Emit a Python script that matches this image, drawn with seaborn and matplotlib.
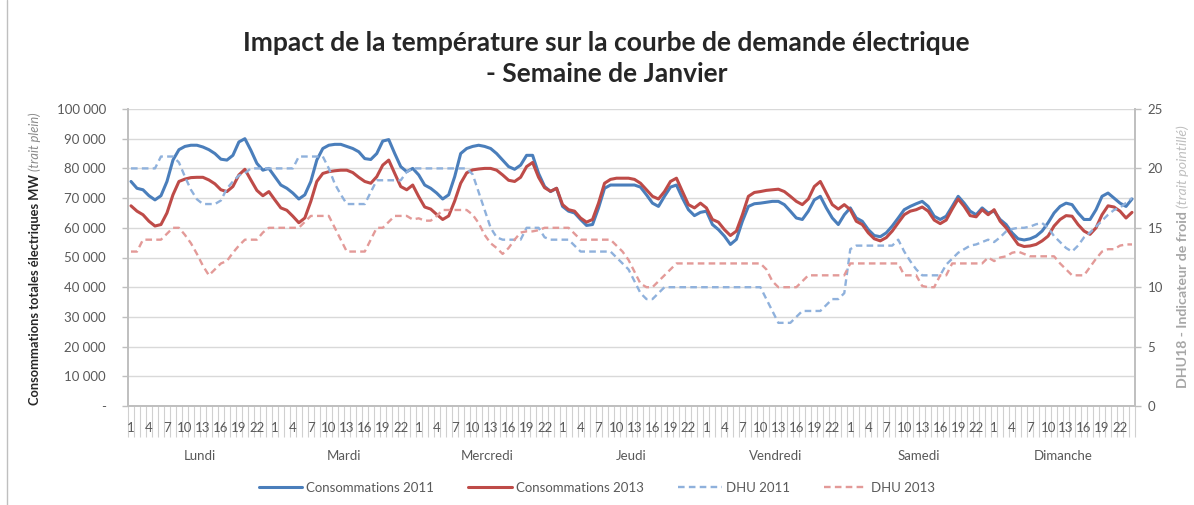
import numpy as np
import pandas as pd
import matplotlib
matplotlib.use("Agg")
import matplotlib.pyplot as plt
import seaborn as sns
from matplotlib.lines import Line2D

# ---- data (one row = one day, hours 1..24) ----
jours = ["Lundi", "Mardi", "Mercredi", "Jeudi", "Vendredi", "Samedi", "Dimanche"]
heures_affichees = ["1", "4", "7", "10", "13", "16", "19", "22"]

conso_2011 = [
    75600, 73300, 72800, 70800, 69400, 70800, 75600, 82800, 86300, 87400, 87800, 87800, 87200, 86300, 85000, 83100, 82800, 84400, 88900, 90000, 86100, 81700, 79400, 80000,
    77200, 74400, 73300, 71700, 69700, 71100, 75600, 82800, 86700, 87800, 88100, 88100, 87400, 86700, 85600, 83300, 83000, 85000, 89200, 89700, 85000, 80600, 78900, 80000,
    77800, 74400, 73300, 71700, 69700, 71100, 77200, 85000, 86700, 87400, 87800, 87400, 86700, 85000, 82800, 80600, 79700, 81100, 84400, 84400, 78300, 73900, 72200, 73300,
    67200, 65600, 65000, 62800, 60800, 61100, 66700, 73300, 74400, 74400, 74400, 74400, 74400, 73700, 71100, 68300, 67200, 70600, 73700, 74400, 70000, 66100, 64100, 65200,
    65600, 61100, 59400, 57200, 54400, 56100, 62200, 67200, 68100, 68300, 68600, 68900, 68900, 67800, 65600, 63300, 62800, 65600, 69400, 70600, 66700, 63300, 61100, 64400,
    66700, 63300, 62200, 59400, 57400, 57000, 58300, 60600, 63300, 66100, 67200, 68100, 68900, 67200, 63900, 62800, 63900, 67200, 70600, 68300, 65600, 64400, 66700, 65000,
    65600, 62800, 61100, 58300, 56300, 55900, 56300, 57200, 58900, 61700, 65000, 67200, 68300, 67800, 65000, 62800, 62800, 66100, 70600, 71700, 70000, 68300, 67200, 69700,
]

conso_2013 = [
    67400, 65600, 64400, 62200, 60600, 61100, 65000, 71100, 75600, 76400, 76900, 77000, 77000, 76100, 74800, 72800, 72200, 73900, 77800, 79700, 76100, 72600, 70800, 72200,
    69400, 66700, 65900, 63900, 61700, 63300, 68900, 75600, 78300, 78900, 79200, 79400, 79400, 78600, 77000, 75600, 75000, 77200, 81100, 82800, 78300, 73900, 72800, 74400,
    70500, 67000, 66300, 64500, 62800, 64000, 69000, 75000, 78500, 79500, 79800, 80000, 80000, 79400, 77800, 76000, 75600, 77000, 80600, 82000, 77000, 73500, 72300, 73300,
    67800, 66100, 65600, 63300, 61900, 62800, 68300, 75000, 76300, 76700, 76700, 76700, 76300, 75000, 72800, 70600, 69700, 72200, 75600, 76700, 72200, 67800, 66700, 68300,
    66700, 62800, 61900, 59400, 57400, 58900, 64400, 70600, 71900, 72200, 72600, 72800, 73000, 72200, 70600, 68900, 67800, 69700, 73900, 75600, 71700, 67800, 66300, 67800,
    66100, 62200, 61100, 58300, 56300, 55600, 56700, 58900, 61700, 64400, 65600, 66100, 67000, 65600, 62600, 61400, 62600, 66300, 69700, 67200, 64100, 63700, 66100, 64400,
    66100, 62200, 60000, 57200, 54400, 53700, 53900, 54400, 55600, 57200, 60600, 62800, 64100, 63900, 61100, 58900, 57800, 60000, 64400, 67400, 67000, 65600, 63300, 65200,
]

dhu_2011 = [
    20, 20, 20, 20, 20, 21, 21, 21, 20.5, 19.3, 18.2, 17.4, 17, 17, 17, 17.3, 18.3, 18.9, 19.4, 19.6, 20, 20, 20, 20,
    20, 20, 20, 20, 21, 21, 21, 21, 21, 20, 18.7, 17.8, 17, 17, 17, 17, 18, 19, 19, 19, 19, 19, 19.7, 20,
    20, 20, 20, 20, 20, 20, 20, 20, 20, 19.5, 18, 16.5, 15, 14.2, 14, 14, 14, 14, 15, 15, 15, 14.2, 14, 14,
    14, 14, 13.5, 13, 13, 13, 13, 13, 13, 12.5, 12, 11.5, 10.5, 9.5, 9, 9, 9.5, 10, 10, 10, 10, 10, 10, 10,
    10, 10, 10, 10, 10, 10, 10, 10, 10, 10, 9, 8, 7, 7, 7, 7.5, 8, 8, 8, 8, 8.5, 9, 9, 9.5,
    13.2, 13.5, 13.5, 13.5, 13.5, 13.5, 13.5, 13.5, 14, 13, 12.2, 11.5, 11, 11, 11, 11, 11.9, 12.4, 12.9, 13.2, 13.5, 13.6, 13.8, 14,
    13.8, 14.2, 14.7, 14.9, 15, 15, 15.1, 15.3, 15.4, 15, 14.3, 13.8, 13.3, 13, 13.5, 14.2, 14.6, 15.1, 15.6, 16.1, 16.5, 16.7, 17.1, 17.5,
]

dhu_2013 = [
    13, 13, 14, 14, 14, 14, 14.5, 15, 15, 14.4, 13.7, 12.8, 11.8, 11, 11.5, 12, 12.2, 12.9, 13.5, 14, 14, 14, 14.6, 15,
    15, 15, 15, 15, 15, 15.5, 16, 16, 16, 16, 15, 14, 13, 13, 13, 13, 14, 15, 15, 15.5, 16, 16, 16, 15.7,
    15.8, 15.6, 15.6, 16, 16.5, 16.5, 16.5, 16.5, 16.5, 16.1, 15.4, 14.4, 13.7, 13.3, 12.8, 13.3, 14, 14.6, 14.7, 14.7, 14.8, 15, 15, 15,
    15, 15, 14.5, 14, 14, 14, 14, 14, 14, 13.5, 13, 12.3, 11.3, 10.3, 10, 10, 10.5, 11, 11.5, 12, 12, 12, 12, 12,
    12, 12, 12, 12, 12, 12, 12, 12, 12, 12, 11.5, 10.5, 10, 10, 10, 10, 10.5, 11, 11, 11, 11, 11, 11, 11,
    12, 12, 12, 12, 12, 12, 12, 12, 12, 11, 11, 11, 10.1, 10, 10, 11, 11, 12, 12, 12, 12, 12, 12, 12.5,
    12.2, 12.5, 12.6, 12.9, 13, 12.8, 12.6, 12.6, 12.6, 12.6, 12.6, 12, 11.5, 11, 11, 11, 11.7, 12.4, 13, 13.2, 13.2, 13.5, 13.6, 13.6,
]

n = len(conso_2011)
h_par_jour = n // len(jours)
df = pd.DataFrame({
    "heure": np.arange(n),
    "Consommations 2011": conso_2011,
    "Consommations 2013": conso_2013,
    "DHU 2011": dhu_2011,
    "DHU 2013": dhu_2013,
})

bleu = "#4a7ebb"
rouge = "#be4b48"
bleu_clair = "#8fb1dc"
rouge_clair = "#e39a98"
gris_axe = "#bfbfbf"
gris_txt = "#595959"
tirets = (0, (2.8, 1.8))

sns.set_theme(style="white")
plt.rcParams['font.family'] = ['Lato', 'DejaVu Sans']

W, H = 1194, 505
fig = plt.figure(figsize=(W / 100, H / 100), dpi=100)
ax = fig.add_axes([128 / W, 1 - 406 / H, (1135 - 128) / W, (406 - 109) / H])
ax2 = ax.twinx()

sns.lineplot(data=df, x="heure", y="Consommations 2011", ax=ax, color=bleu, lw=2.2)
sns.lineplot(data=df, x="heure", y="Consommations 2013", ax=ax, color=rouge, lw=2.2)
sns.lineplot(data=df, x="heure", y="DHU 2011", ax=ax2, color=bleu_clair, lw=1.7, linestyle=tirets)
sns.lineplot(data=df, x="heure", y="DHU 2013", ax=ax2, color=rouge_clair, lw=1.7, linestyle=tirets)

# y axes
ax.set_ylim(0, 100000)
ax.set_yticks(np.arange(0, 100001, 10000))
ax.set_yticklabels(["-"] + [f"{v:,}".replace(",", " ") for v in range(10000, 100001, 10000)])
ax2.set_ylim(0, 25)
ax2.set_yticks(np.arange(0, 26, 5))
ax.yaxis.grid(True, color="#d9d9d9", lw=1)
ax.set_xlim(-0.5, n - 0.5)
ax.set_ylabel("")
ax2.set_ylabel("")
ax.set_xlabel("")

for a in (ax, ax2):
    for s in a.spines.values():
        s.set_color(gris_axe)
    a.spines["top"].set_visible(False)
    a.tick_params(axis="y", colors=gris_txt, labelsize=9.5, length=4, width=1)
    a.tick_params(axis="y", color=gris_axe)
ax.tick_params(axis="y", pad=12)
ax2.tick_params(axis="y", pad=5)

# category axis: hour separators (minor) and day separators (major)
ax.set_xticks(np.arange(-0.5, n, h_par_jour))
ax.set_xticks(np.arange(-0.5, n, 1), minor=True)
ax.tick_params(axis="x", which="major", length=44, width=1, color=gris_axe, labelbottom=False, direction="out")
ax.tick_params(axis="x", which="minor", length=22, width=0.8, color="#d0d0d0", labelbottom=False, direction="out", bottom=True)
ax2.set_xticks([])

trans = ax.get_xaxis_transform()
for d, jour in enumerate(jours):
    debut = d * h_par_jour
    for lab in heures_affichees:
        ax.text(debut + int(lab) - 1, -0.074, lab, transform=trans, ha="center", va="center",
                fontsize=9.5, color=gris_txt)
    ax.text(debut + (h_par_jour - 1) / 2, -0.168, jour, transform=trans, ha="center", va="center",
            fontsize=9.5, color=gris_txt)

# titles
fig.text(0.508, 1 - 43 / H, "Impact de la température sur la courbe de demande électrique",
         ha="center", va="center", fontsize=19, fontweight="bold", color="#262626")
fig.text(0.508, 1 - 74 / H, "- Semaine de Janvier",
         ha="center", va="center", fontsize=19, fontweight="bold", color="#262626")

# left axis label (bold + italic part)
t1 = fig.text(35 / W, 0, "Consommations totales électriques MW ", rotation=90,
              ha="center", va="bottom", fontsize=9.3, fontweight="bold", color="#262626")
t2 = fig.text(35 / W, 0, "(trait plein)", rotation=90, ha="center", va="bottom",
              fontsize=9.3, style="italic", color="#8c8c8c")
# right axis label
t3 = fig.text(1183 / W, 0, "DHU18 - Indicateur de froid ", rotation=90,
              ha="center", va="bottom", fontsize=10.2, fontweight="bold", color="#a6a6a6")
t4 = fig.text(1183 / W, 0, "(trait pointillé)", rotation=90, ha="center", va="bottom",
              fontsize=10.2, style="italic", color="#bfbfbf")
fig.canvas.draw()
r = fig.canvas.get_renderer()
for a_, b_, centre_px in ((t1, t2, 259), (t3, t4, 257)):
    h1 = a_.get_window_extent(r).height / H
    h2 = b_.get_window_extent(r).height / H
    centre = 1 - centre_px / H
    y0 = centre - (h1 + h2) / 2
    a_.set_y(y0)
    b_.set_y(y0 + h1)

# legend
handles = [
    Line2D([], [], color=bleu, lw=2.2),
    Line2D([], [], color=rouge, lw=2.2),
    Line2D([], [], color=bleu_clair, lw=1.7, linestyle=tirets),
    Line2D([], [], color=rouge_clair, lw=1.7, linestyle=tirets),
]
labels = ["Consommations 2011", "Consommations 2013", "DHU 2011", "DHU 2013"]
fig.legend(handles, labels, loc="center", bbox_to_anchor=(0.5, 1 - 488 / H), ncol=4,
           frameon=False, fontsize=9.5, handlelength=3.3, handletextpad=0.3, columnspacing=2.6,
           labelcolor=gris_txt)

# chart-area border on the left
fig.add_artist(Line2D([7 / W, 7 / W], [0, 1], transform=fig.transFigure, color=gris_axe, lw=1))

fig.savefig("out.png", dpi=100)
